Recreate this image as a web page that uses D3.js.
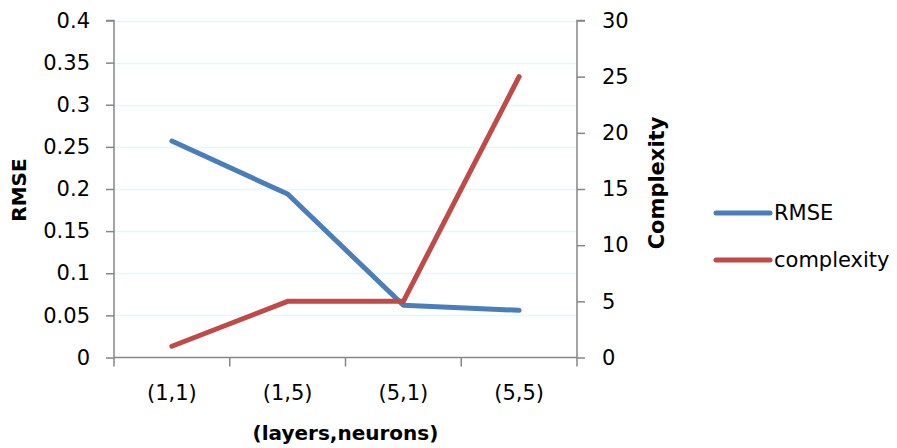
<!DOCTYPE html>
<html>
<head>
<meta charset="utf-8">
<script src="https://cdn.jsdelivr.net/npm/d3@7"></script>
<style>
  html, body { margin: 0; padding: 0; background: #fff; }
  svg { display: block; font-family: "DejaVu Sans", sans-serif; }
</style>
</head>
<body>
<svg id="chart" width="897" height="448"></svg>
<script>
// Network configurations and their measured results
const categories = ["(1,1)", "(1,5)", "(5,1)", "(5,5)"];
const rmseValues = [0.257, 0.194, 0.062, 0.056];
const complexityValues = [1, 5, 5, 25];
const rmseTicks = [0, 0.05, 0.1, 0.15, 0.2, 0.25, 0.3, 0.35, 0.4];
const complexityTicks = [0, 5, 10, 15, 20, 25, 30];
const seriesNames = ["RMSE", "complexity"];
const seriesColors = ["#4A7EBB", "#BE4B48"];

const svg = d3.select("#chart");
const plot = { left: 114, right: 577, top: 20.5, bottom: 357.5 };
const axisColor = "#868686";
const fontFamily = "'DejaVu Sans', sans-serif";
const fontSize = 21;
const titleSize = 20;

const x = d3.scaleBand().domain(categories).range([plot.left, plot.right]);
const yL = d3.scaleLinear().domain([0, 0.4]).range([plot.bottom, plot.top]);
const yR = d3.scaleLinear().domain([0, 30]).range([plot.bottom, plot.top]);

// Horizontal gridlines
svg.append("g").selectAll("line").data(rmseTicks.filter(d => d > 0)).join("line")
  .attr("x1", plot.left).attr("x2", plot.right)
  .attr("y1", d => Math.round(yL(d)) + 0.5).attr("y2", d => Math.round(yL(d)) + 0.5)
  .attr("stroke", "#D9FCFF").attr("stroke-width", 1.5);

// Left axis
const leftAxis = svg.append("g").attr("transform", `translate(${plot.left},0)`)
  .call(d3.axisLeft(yL).tickValues(rmseTicks).tickFormat(d => String(+d.toFixed(2))).tickSize(8).tickPadding(16));
// Right axis
const rightAxis = svg.append("g").attr("transform", `translate(${plot.right},0)`)
  .call(d3.axisRight(yR).tickValues(complexityTicks).tickFormat(d3.format("d")).tickSize(8).tickPadding(17));
// Bottom axis with ticks at category boundaries
const bottomAxis = svg.append("g").attr("transform", `translate(0,${plot.bottom})`)
  .call(d3.axisBottom(x).tickSize(0).tickPadding(28));
bottomAxis.append("g").selectAll("line")
  .data(d3.range(categories.length + 1)).join("line")
  .attr("x1", i => plot.left + i * x.step()).attr("x2", i => plot.left + i * x.step())
  .attr("y1", 0).attr("y2", 9).attr("stroke", axisColor).attr("stroke-width", 1.5);

[leftAxis, rightAxis, bottomAxis].forEach(g => {
  g.select(".domain").attr("stroke", axisColor).attr("stroke-width", 1.5);
  g.selectAll(".tick line").attr("stroke", axisColor).attr("stroke-width", 1.5);
  g.selectAll("text").attr("fill", "#000").style("font-size", fontSize + "px")
    .style("font-family", fontFamily);
});
bottomAxis.select(".domain").attr("d", `M${plot.left},0H${plot.right}`);
leftAxis.select(".domain").attr("d", `M-8,${plot.top}H0V${plot.bottom}`);
rightAxis.select(".domain").attr("d", `M8,${plot.top}H0V${plot.bottom}`);

// Series lines
const lineL = d3.line().x((d, i) => x(categories[i]) + x.bandwidth() / 2).y(d => yL(d));
const lineR = d3.line().x((d, i) => x(categories[i]) + x.bandwidth() / 2).y(d => yR(d));
svg.append("path").datum(rmseValues).attr("d", lineL)
  .attr("fill", "none").attr("stroke", seriesColors[0]).attr("stroke-width", 5)
  .attr("stroke-linecap", "round").attr("stroke-linejoin", "round");
svg.append("path").datum(complexityValues).attr("d", lineR)
  .attr("fill", "none").attr("stroke", seriesColors[1]).attr("stroke-width", 5)
  .attr("stroke-linecap", "round").attr("stroke-linejoin", "round");

// Axis titles
svg.append("text").attr("transform", "translate(26,190) rotate(-90)")
  .attr("text-anchor", "middle").attr("font-weight", "bold").attr("font-size", titleSize)
  .text("RMSE");
svg.append("text").attr("transform", "translate(664,183) rotate(-90)")
  .attr("text-anchor", "middle").attr("font-weight", "bold").attr("font-size", titleSize + 1)
  .text("Complexity");
svg.append("text").attr("x", (plot.left + plot.right) / 2).attr("y", 440)
  .attr("text-anchor", "middle").attr("font-weight", "bold").attr("font-size", titleSize)
  .text("(layers,neurons)");

// Legend
const legend = svg.append("g").selectAll("g").data(seriesNames).join("g")
  .attr("transform", (d, i) => `translate(716,${213 + i * 47})`);
legend.append("line").attr("x1", 0).attr("x2", 54).attr("y1", 0).attr("y2", 0)
  .attr("stroke", (d, i) => seriesColors[i]).attr("stroke-width", 5).attr("stroke-linecap", "round");
legend.append("text").attr("x", 58).attr("y", 7).attr("font-size", fontSize).text(d => d);
</script>
</body>
</html>
